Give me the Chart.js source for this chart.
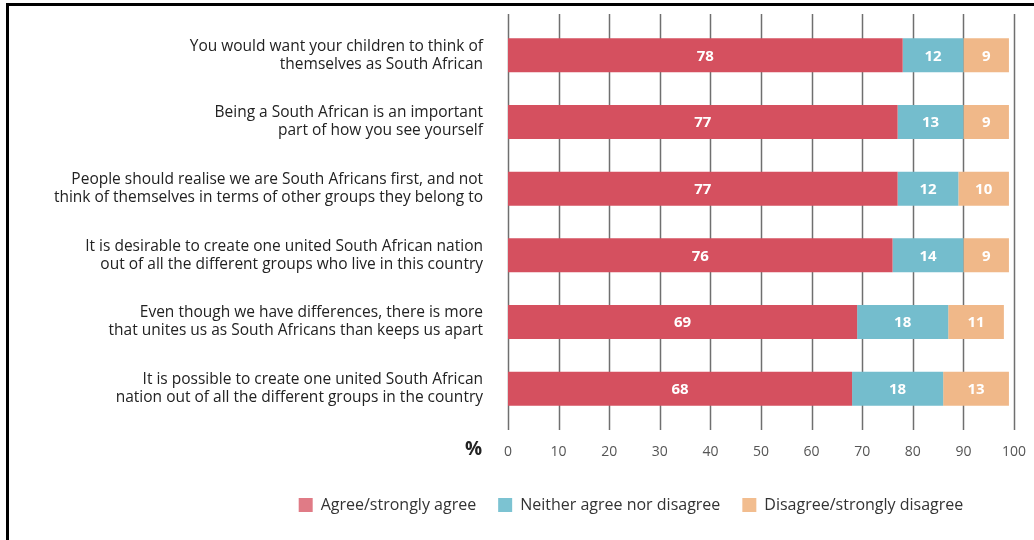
<!DOCTYPE html>
<html>
<head>
<meta charset="utf-8">
<script src="https://cdn.jsdelivr.net/npm/chart.js@4.4.1/dist/chart.umd.min.js"></script>
<style>
html, body { margin:0; padding:0; background:#fff; }
#wrap { position:relative; width:1034px; height:540px; }
#frame { position:absolute; left:6px; top:3px; right:0; bottom:0; border-top:3px solid #000; border-left:3px solid #000; pointer-events:none; }
canvas { position:absolute; left:0; top:0; }
</style>
</head>
<body>
<div id="wrap">
<canvas id="chart" width="1034" height="540"></canvas>
<div id="frame"></div>
</div>
<script>

let statements = [
    ["You would want your children to think of", "themselves as South African"],
    ["Being a South African is an important", "part of how you see yourself"],
    ["People should realise we are South Africans first, and not", "think of themselves in terms of other groups they belong to"],
    ["It is desirable to create one united South African nation", "out of all the different groups who live in this country"],
    ["Even though we have differences, there is more", "that unites us as South Africans than keeps us apart"],
    ["It is possible to create one united South African", "nation out of all the different groups in the country"]
];

let agree = [78, 77, 77, 76, 69, 68];
let neither = [12, 13, 12, 14, 18, 18];
let disagree = [9, 9, 10, 9, 11, 13];

let xTicks = [0, 10, 20, 30, 40, 50, 60, 70, 80, 90, 100];

let fontName = "'Open Sans', sans-serif";

// vertical grid lines run a little past the bars at top and bottom
const gridLines = {
    id:"gridLines",
    beforeDatasetsDraw(chart){
        let ctx = chart.ctx;
        let area = chart.chartArea;
        let x = chart.scales.x;
        ctx.save();
        ctx.strokeStyle = "#6f6f6f";
        ctx.lineWidth = 1.5;
        xTicks.forEach(t => {
            let px = Math.round(x.getPixelForValue(t)) + 0.5;
            ctx.beginPath();
            ctx.moveTo(px, area.top - 8);
            ctx.lineTo(px, area.bottom + 8);
            ctx.stroke();
        });
        ctx.restore();
    }
};

// numbers printed inside each segment, plus the % sign by the axis
const segmentLabels = {
    id:"segmentLabels",
    afterDatasetsDraw(chart){
        let ctx = chart.ctx;
        ctx.save();
        ctx.fillStyle = "#ffffff";
        ctx.font = "bold 15px " + fontName;
        ctx.textAlign = "center";
        ctx.textBaseline = "middle";
        chart.data.datasets.forEach((ds, i) => {
            chart.getDatasetMeta(i).data.forEach((bar, j) => {
                let cx = (bar.x + bar.base) / 2;
                ctx.fillText(ds.data[j], cx, bar.y + 1);
            });
        });
        ctx.fillStyle = "#222";
        ctx.font = "bold 19px " + fontName;
        ctx.textAlign = "right";
        ctx.fillText("%", chart.chartArea.left - 26, chart.chartArea.bottom + 28);
        ctx.restore();
    }
};

// legend sits under the bars, offset right of the canvas centre
const legendShift = {
    id:"legendShift",
    afterLayout(chart){
        chart.legend.left += 124;
        chart.legend.right += 124;
    }
};

new Chart(
document.getElementById("chart"),
{
    type:"bar",
    data:{
        labels:statements,
        datasets:[
        {
            label:"Agree/strongly agree",
            data:agree,
            backgroundColor:"#d5505f",
            legendColor:"#e07b86"
        },
        {
            label:"Neither agree nor disagree",
            data:neither,
            backgroundColor:"#74bdcd",
            legendColor:"#7cc3d2"
        },
        {
            label:"Disagree/strongly disagree",
            data:disagree,
            backgroundColor:"#f0b889",
            legendColor:"#f2bd8f"
        }
        ]
    },
    options:{
        indexAxis:"y",
        responsive:false,
        animation:false,
        barPercentage:0.51,
        categoryPercentage:1,
        layout:{
            padding:{ left:0, right:20, top:22, bottom:17 }
        },
        plugins:{
            legend:{
                position:"bottom",
                labels:{
                    boxWidth:14,
                    boxHeight:14,
                    padding:22,
                    color:"#333",
                    font:{ family:fontName, size:16 },
                    generateLabels(chart){
                        return chart.data.datasets.map((ds, i) => ({
                            text:ds.label,
                            fillStyle:ds.legendColor,
                            strokeStyle:ds.legendColor,
                            lineWidth:0,
                            fontColor:"#333",
                            datasetIndex:i
                        }));
                    }
                }
            },
            tooltip:{ enabled:false }
        },
        scales:{
            x:{
                stacked:true,
                min:0,
                max:100,
                afterBuildTicks(scale){
                    scale.ticks = xTicks.map(v => ({ value:v }));
                },
                afterFit(scale){
                    scale.height = 53;
                    scale.paddingLeft = 0;
                    scale.paddingRight = 0;
                },
                grid:{ display:false, drawTicks:false },
                border:{ display:false },
                ticks:{
                    padding:22,
                    color:"#555",
                    font:{ family:fontName, size:14 }
                }
            },
            y:{
                stacked:true,
                afterFit(scale){
                    scale.width = 508;
                    scale.paddingTop = 0;
                    scale.paddingBottom = 0;
                },
                grid:{ display:false, drawTicks:false },
                border:{ display:false },
                ticks:{
                    padding:25,
                    color:"#222",
                    font:{ family:fontName, size:15.5, lineHeight:1.16 }
                }
            }
        }
    },
    plugins:[gridLines, segmentLabels, legendShift]
});
</script>
</body>
</html>
